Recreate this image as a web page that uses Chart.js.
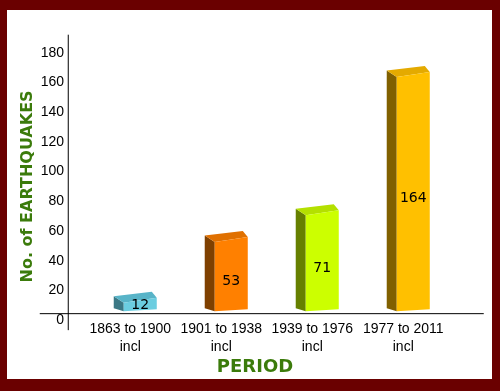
<!DOCTYPE html>
<html><head><meta charset="utf-8">
<script src="https://cdn.jsdelivr.net/npm/chart.js@4/dist/chart.umd.min.js"></script>
<style>
html,body{margin:0;padding:0;background:#6a0000;}
#frame{position:absolute;left:0;top:0;width:500px;height:391px;box-sizing:border-box;border-style:solid;border-color:#6a0000;border-width:10px 8px 12px 7px;background:#fff;}
#wrap{position:relative;width:485px;height:369px;}
</style></head><body>
<div id="frame"><div id="wrap"><canvas id="c"></canvas></div></div>
<script>
// ---- data ----
const categories = [['1863 to 1900', 'incl'], ['1901 to 1938', 'incl'], ['1939 to 1976', 'incl'], ['1977 to 2011', 'incl']];
const earthquakes = [12, 53, 71, 164];
const yMin = 0, yMax = 180, yStep = 20;
const xTitle = 'PERIOD';
const yTitle = 'No. of EARTHQUAKES';

// ---- styles ----
const frontColors = ['#6bcde0', '#ff8000', '#ccff00', '#ffc000'];
const sideColors = ['#3b7885', '#7f4000', '#668000', '#806000'];
const topColors = ['#58b4c8', '#e07000', '#b4e000', '#e4aa00'];
const green = '#3b7b0b';
const tickFont = "'Liberation Sans', Arial, sans-serif";

const bar3d = {
  id: 'bar3d',
  beforeDatasetsDraw(chart) {
    const ctx = chart.ctx, ys = chart.scales.y, area = chart.chartArea;
    const zeroY = ys.getPixelForValue(0);
    const floorY = zeroY - 7;
    ctx.save();
    // axis lines
    ctx.strokeStyle = '#000';
    ctx.lineWidth = 1;
    ctx.beginPath();
    ctx.moveTo(area.left - 26.5, ys.getPixelForValue(yMax) - 18);
    ctx.lineTo(area.left - 26.5, zeroY + 10);
    ctx.moveTo(area.left - 55, floorY + 0.5);
    ctx.lineTo(area.right + 25, floorY + 0.5);
    ctx.stroke();
    const meta = chart.getDatasetMeta(0);
    meta.data.forEach((el, i) => {
      const p = el.getProps(['x', 'y', 'width', 'base'], true);
      const x0 = p.x - p.width / 2, x1 = p.x + p.width / 2;
      const yT = p.y - 2, yB = p.base - 9;
      const d = 10;
      // side
      ctx.fillStyle = sideColors[i];
      ctx.beginPath();
      ctx.moveTo(x0 - d, yT - 4); ctx.lineTo(x0, yT + 2.5); ctx.lineTo(x0, yB); ctx.lineTo(x0 - d, yB - 3);
      ctx.closePath(); ctx.fill();
      // top
      ctx.fillStyle = topColors[i];
      ctx.beginPath();
      ctx.moveTo(x0 - d, yT - 4); ctx.lineTo(x1 - 5, yT - 8.5); ctx.lineTo(x1, yT - 2.5); ctx.lineTo(x0, yT + 2.5);
      ctx.closePath(); ctx.fill();
      // front
      ctx.fillStyle = frontColors[i];
      ctx.beginPath();
      ctx.moveTo(x0, yT + 2.5); ctx.lineTo(x1, yT - 2.5); ctx.lineTo(x1, yB - 2); ctx.lineTo(x0, yB);
      ctx.closePath(); ctx.fill();
      // value label
      ctx.fillStyle = '#000';
      ctx.font = "14px 'DejaVu Sans', sans-serif";
      ctx.textAlign = 'center';
      ctx.textBaseline = 'middle';
      const ly = Math.min((yT + yB) / 2 + 6, yB - 6);
      ctx.fillText(String(earthquakes[i]), p.x, ly);
    });
    ctx.restore();
    return false;
  }
};

new Chart(document.getElementById('c'), {
  type: 'bar',
  data: {
    labels: categories,
    datasets: [{
      data: earthquakes,
      backgroundColor: frontColors,
      barPercentage: 0.363,
      categoryPercentage: 1
    }]
  },
  plugins: [bar3d],
  options: {
    responsive: true,
    maintainAspectRatio: false,
    animation: false,
    layout: { padding: { left: 11, right: 0, top: 42.7, bottom: 3 } },
    plugins: {
      legend: { display: false },
      tooltip: { enabled: false },
      title: {
        display: true, position: 'bottom', text: xTitle, color: green,
        font: { family: "'DejaVu Sans', sans-serif", weight: 'bold', size: 18, lineHeight: 1 },
        padding: { top: 2, bottom: 0 }
      }
    },
    scales: {
      x: {
        grid: { display: false, drawTicks: false },
        border: { display: false },
        ticks: { color: '#000', padding: 0, labelOffset: -10, maxRotation: 0, autoSkip: false,
          font: { family: tickFont, size: 14, lineHeight: 1.28 } }
      },
      y: {
        min: yMin, max: yMax,
        grid: { display: false, drawTicks: false },
        border: { display: false },
        ticks: { stepSize: yStep, color: '#000', padding: 30.75,
          font: { family: tickFont, size: 14, lineHeight: 1.2 } },
        title: { display: true, text: yTitle, color: green, padding: { top: 2, bottom: 0 },
          font: { family: "'DejaVu Sans', sans-serif", weight: 'bold', size: 16, lineHeight: 1 } },
        afterFit: s => { s.width = 76.75; }
      },
      y2: {
        position: 'right', display: true,
        grid: { display: false, drawTicks: false },
        border: { display: false },
        ticks: { display: false },
        afterFit: s => { s.width = 33.25; }
      }
    }
  }
});
</script>
</body></html>
